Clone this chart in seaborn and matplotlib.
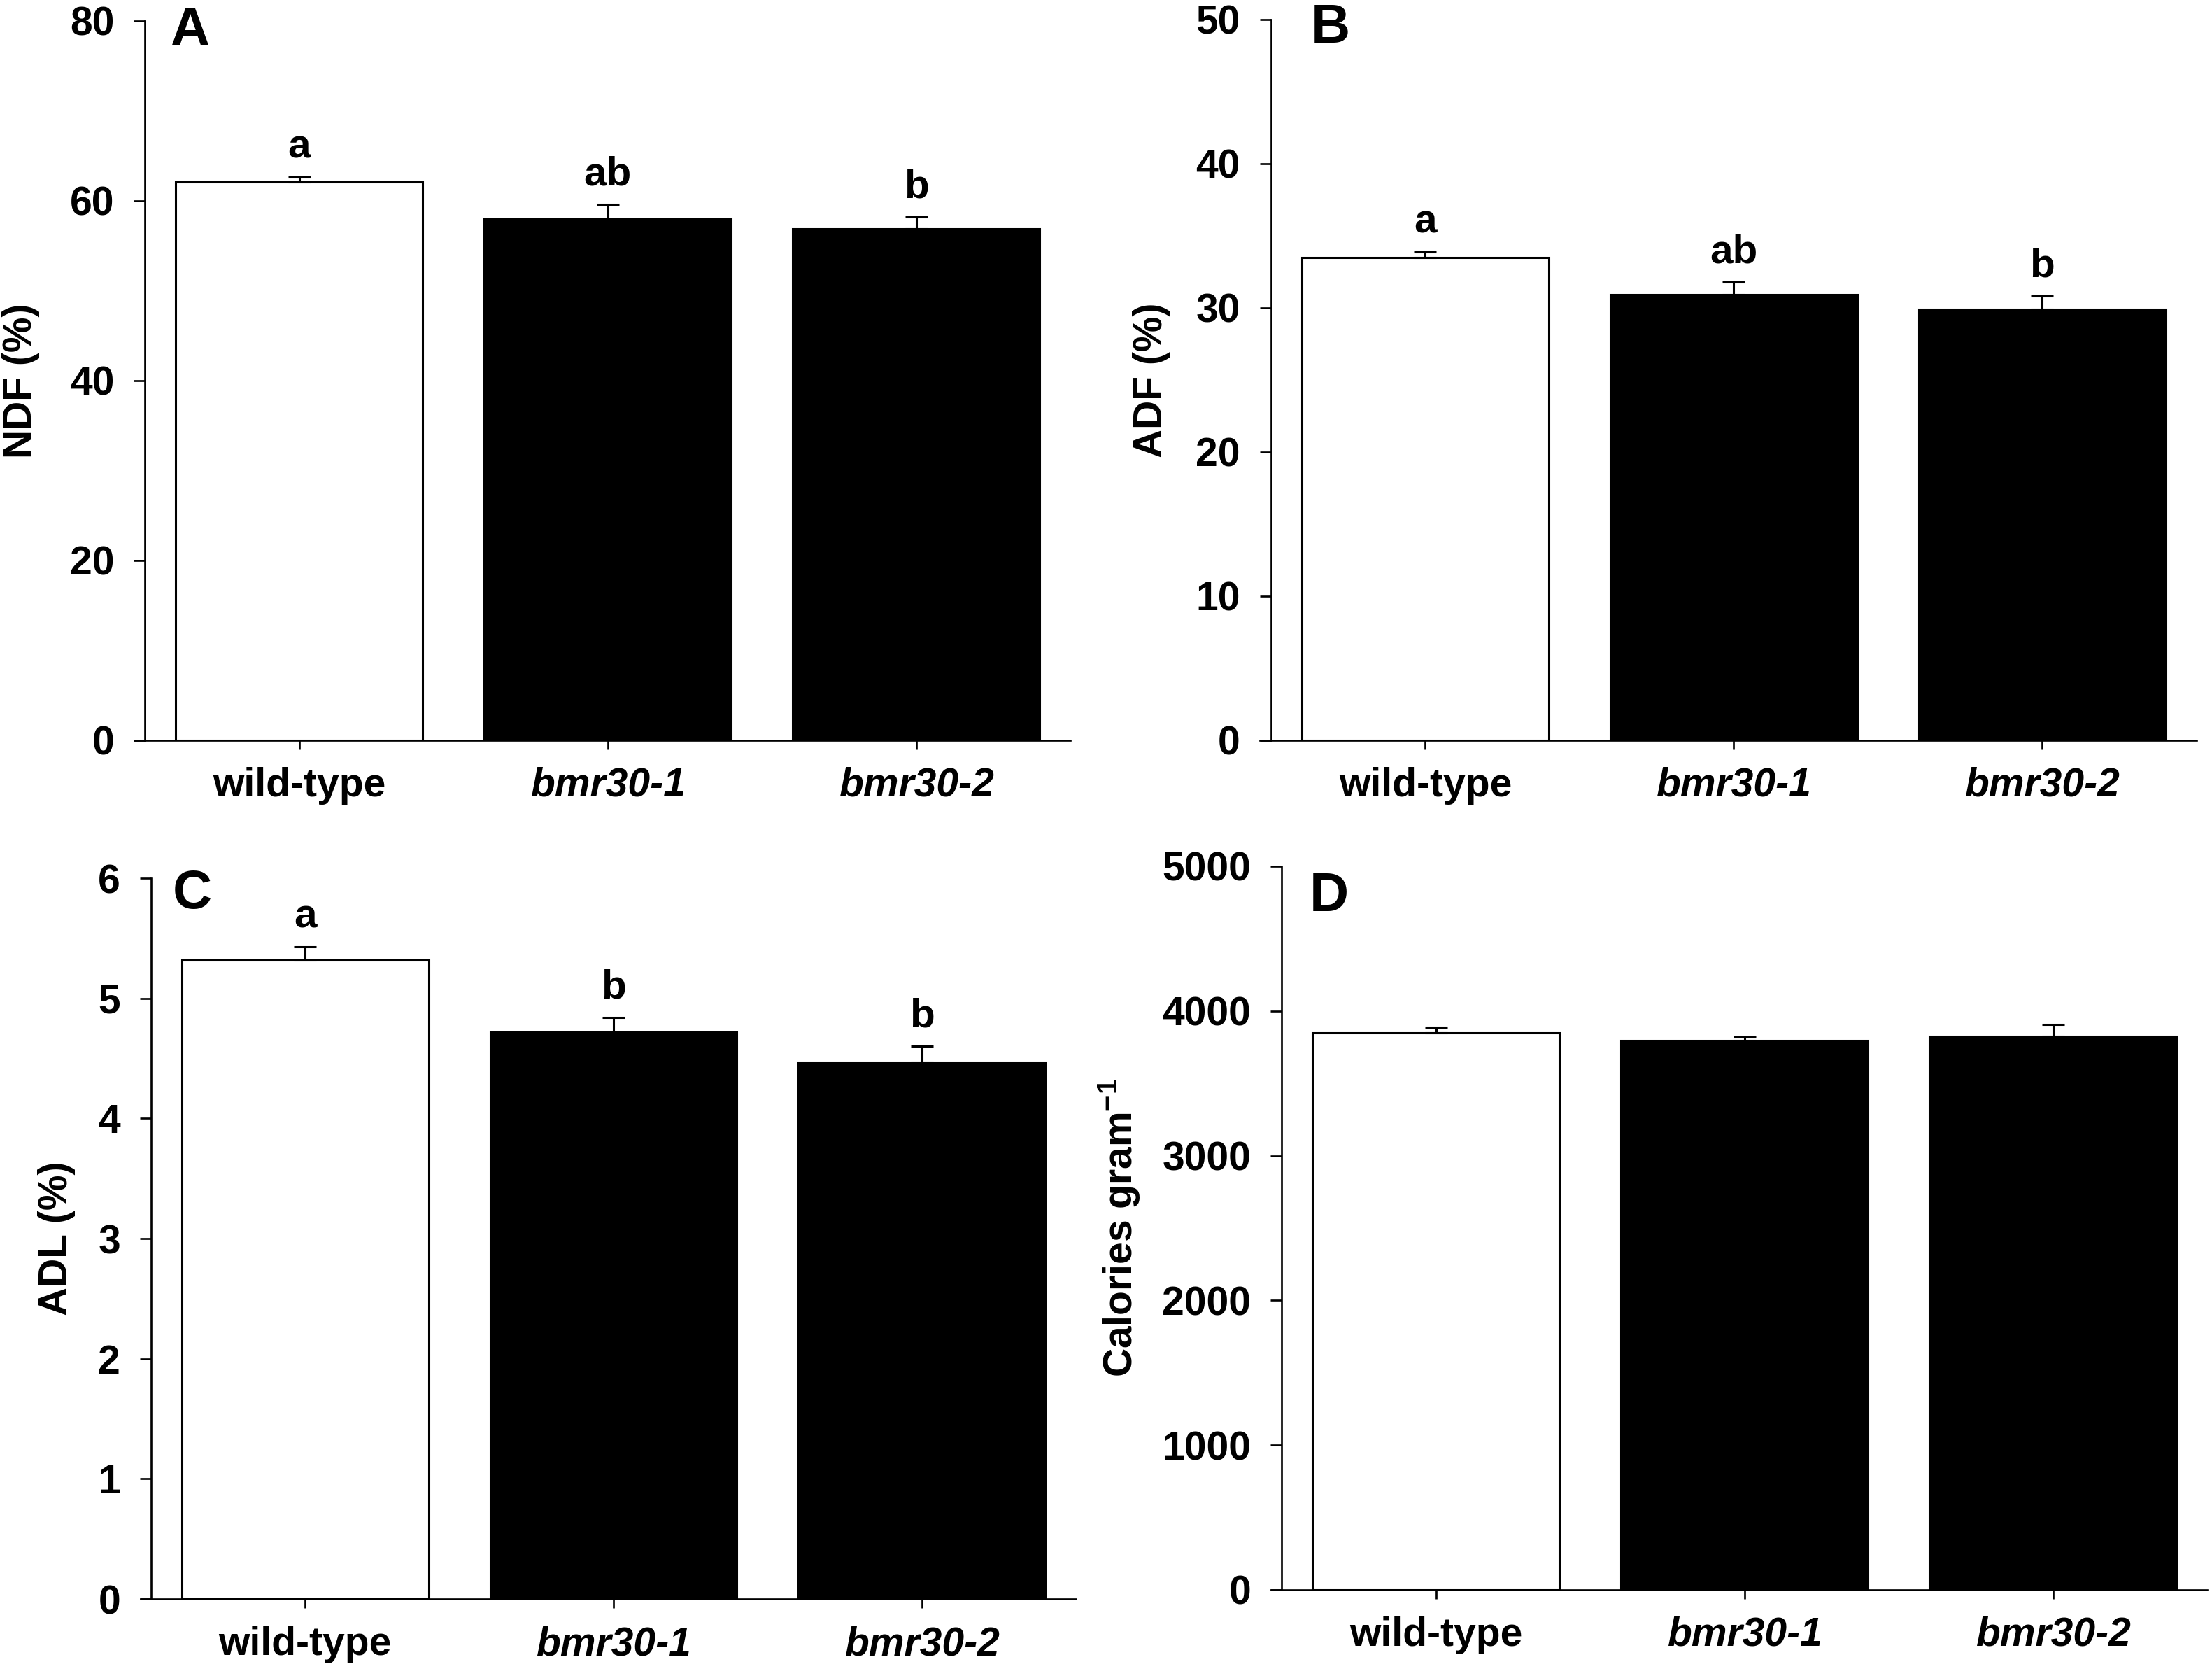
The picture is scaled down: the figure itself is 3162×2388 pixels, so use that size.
import matplotlib
matplotlib.use("Agg")
import matplotlib.pyplot as plt
import seaborn as sns

# genotypes on the x axis
genotypes = ["wild-type", "bmr30-1", "bmr30-2"]
bar_colors = ["white", "black", "black"]

# panel A: neutral detergent fibre
ndf_mean = [62.1, 58.0, 56.9]
ndf_se = [0.5, 1.6, 1.3]
ndf_sig = ["a", "ab", "b"]

# panel B: acid detergent fibre
adf_mean = [33.5, 30.9, 29.9]
adf_se = [0.37, 0.9, 0.93]
adf_sig = ["a", "ab", "b"]

# panel C: acid detergent lignin
adl_mean = [5.32, 4.72, 4.47]
adl_se = [0.11, 0.12, 0.13]
adl_sig = ["a", "b", "b"]

# panel D: calories
cal_mean = [3848, 3797, 3826]
cal_se = [41, 22, 81]

sns.set_style("ticks")
plt.rcParams["font.family"] = ["Liberation Sans", "DejaVu Sans"]
plt.rcParams["font.weight"] = "bold"
plt.rcParams["mathtext.fontset"] = "custom"
plt.rcParams["mathtext.rm"] = "Liberation Sans"
plt.rcParams["mathtext.bf"] = "Liberation Sans:bold"
for k in ["text.color", "axes.labelcolor", "xtick.color", "ytick.color", "axes.edgecolor"]:
    plt.rcParams[k] = "black"

fig = plt.figure(figsize=(15.81, 11.94), dpi=200)

panels = [
    # rect, letter, letter pos, ylabel, label x, ylim, yticks, data
    ([0.0655, 0.5570, 0.4184, 0.4305], "A", (0.027, 0.966), "NDF (%)", -0.134,
     80, [0, 20, 40, 60, 80], ndf_mean, ndf_se, ndf_sig),
    ([0.5746, 0.5570, 0.4184, 0.4313], "B", (0.043, 0.968), "ADF (%)", -0.129,
     50, [0, 10, 20, 30, 40, 50], adf_mean, adf_se, adf_sig),
    ([0.0683, 0.0431, 0.4181, 0.4313], "C", (0.023, 0.958), "ADL (%)", -0.102,
     6, [0, 1, 2, 3, 4, 5, 6], adl_mean, adl_se, adl_sig),
    ([0.5794, 0.0486, 0.4184, 0.4330], "D", (0.030, 0.938), r"Calories gram$^{\mathbf{-1}}$", -0.175,
     5000, [0, 1000, 2000, 3000, 4000, 5000], cal_mean, cal_se, None),
]

for rect, letter, lpos, ylab, labx, ymax, yticks, means, ses, sig in panels:
    ax = fig.add_axes(rect)
    sns.barplot(x=genotypes, y=means, hue=genotypes, palette=bar_colors,
                legend=False, edgecolor="black", linewidth=1.1, width=0.8,
                saturation=1, ax=ax)
    ax.errorbar(range(3), means, yerr=[[0, 0, 0], ses], fmt="none",
                ecolor="black", elinewidth=1.1, capsize=5.6, capthick=1.1, zorder=5)

    ax.set_xlim(-0.5, 2.5)
    ax.set_ylim(0, ymax)
    ax.set_yticks(yticks)
    sns.despine(ax=ax)
    for s in ["left", "bottom"]:
        ax.spines[s].set_linewidth(0.95)
    ax.spines["bottom"].set_bounds(-0.535, 2.5)
    ax.tick_params(axis="y", length=5.8, width=0.95, pad=10, labelsize=20.5)
    ax.tick_params(axis="x", length=4.7, width=0.95, pad=9, labelsize=20.5)
    for t in ax.get_yticklabels():
        t.set_fontweight("bold")
    ax.set_xticks(range(3))
    ax.set_xticklabels(genotypes, fontweight="bold")
    for t in ax.get_xticklabels()[1:]:
        t.set_fontstyle("italic")

    ax.set_xlabel("")
    ax.set_ylabel(ylab, fontsize=20.5, fontweight="bold", va="center")
    ax.yaxis.set_label_coords(labx, 0.5)

    ax.text(lpos[0], lpos[1], letter, transform=ax.transAxes, fontsize=28,
            fontweight="bold", ha="left", va="baseline")

    if sig is not None:
        for i, (m, e, s) in enumerate(zip(means, ses, sig)):
            ax.annotate(s, (i, m + e), xytext=(0, 10), textcoords="offset points",
                        ha="center", va="baseline", fontsize=21, fontweight="bold")

fig.savefig("out.png", dpi=200)
